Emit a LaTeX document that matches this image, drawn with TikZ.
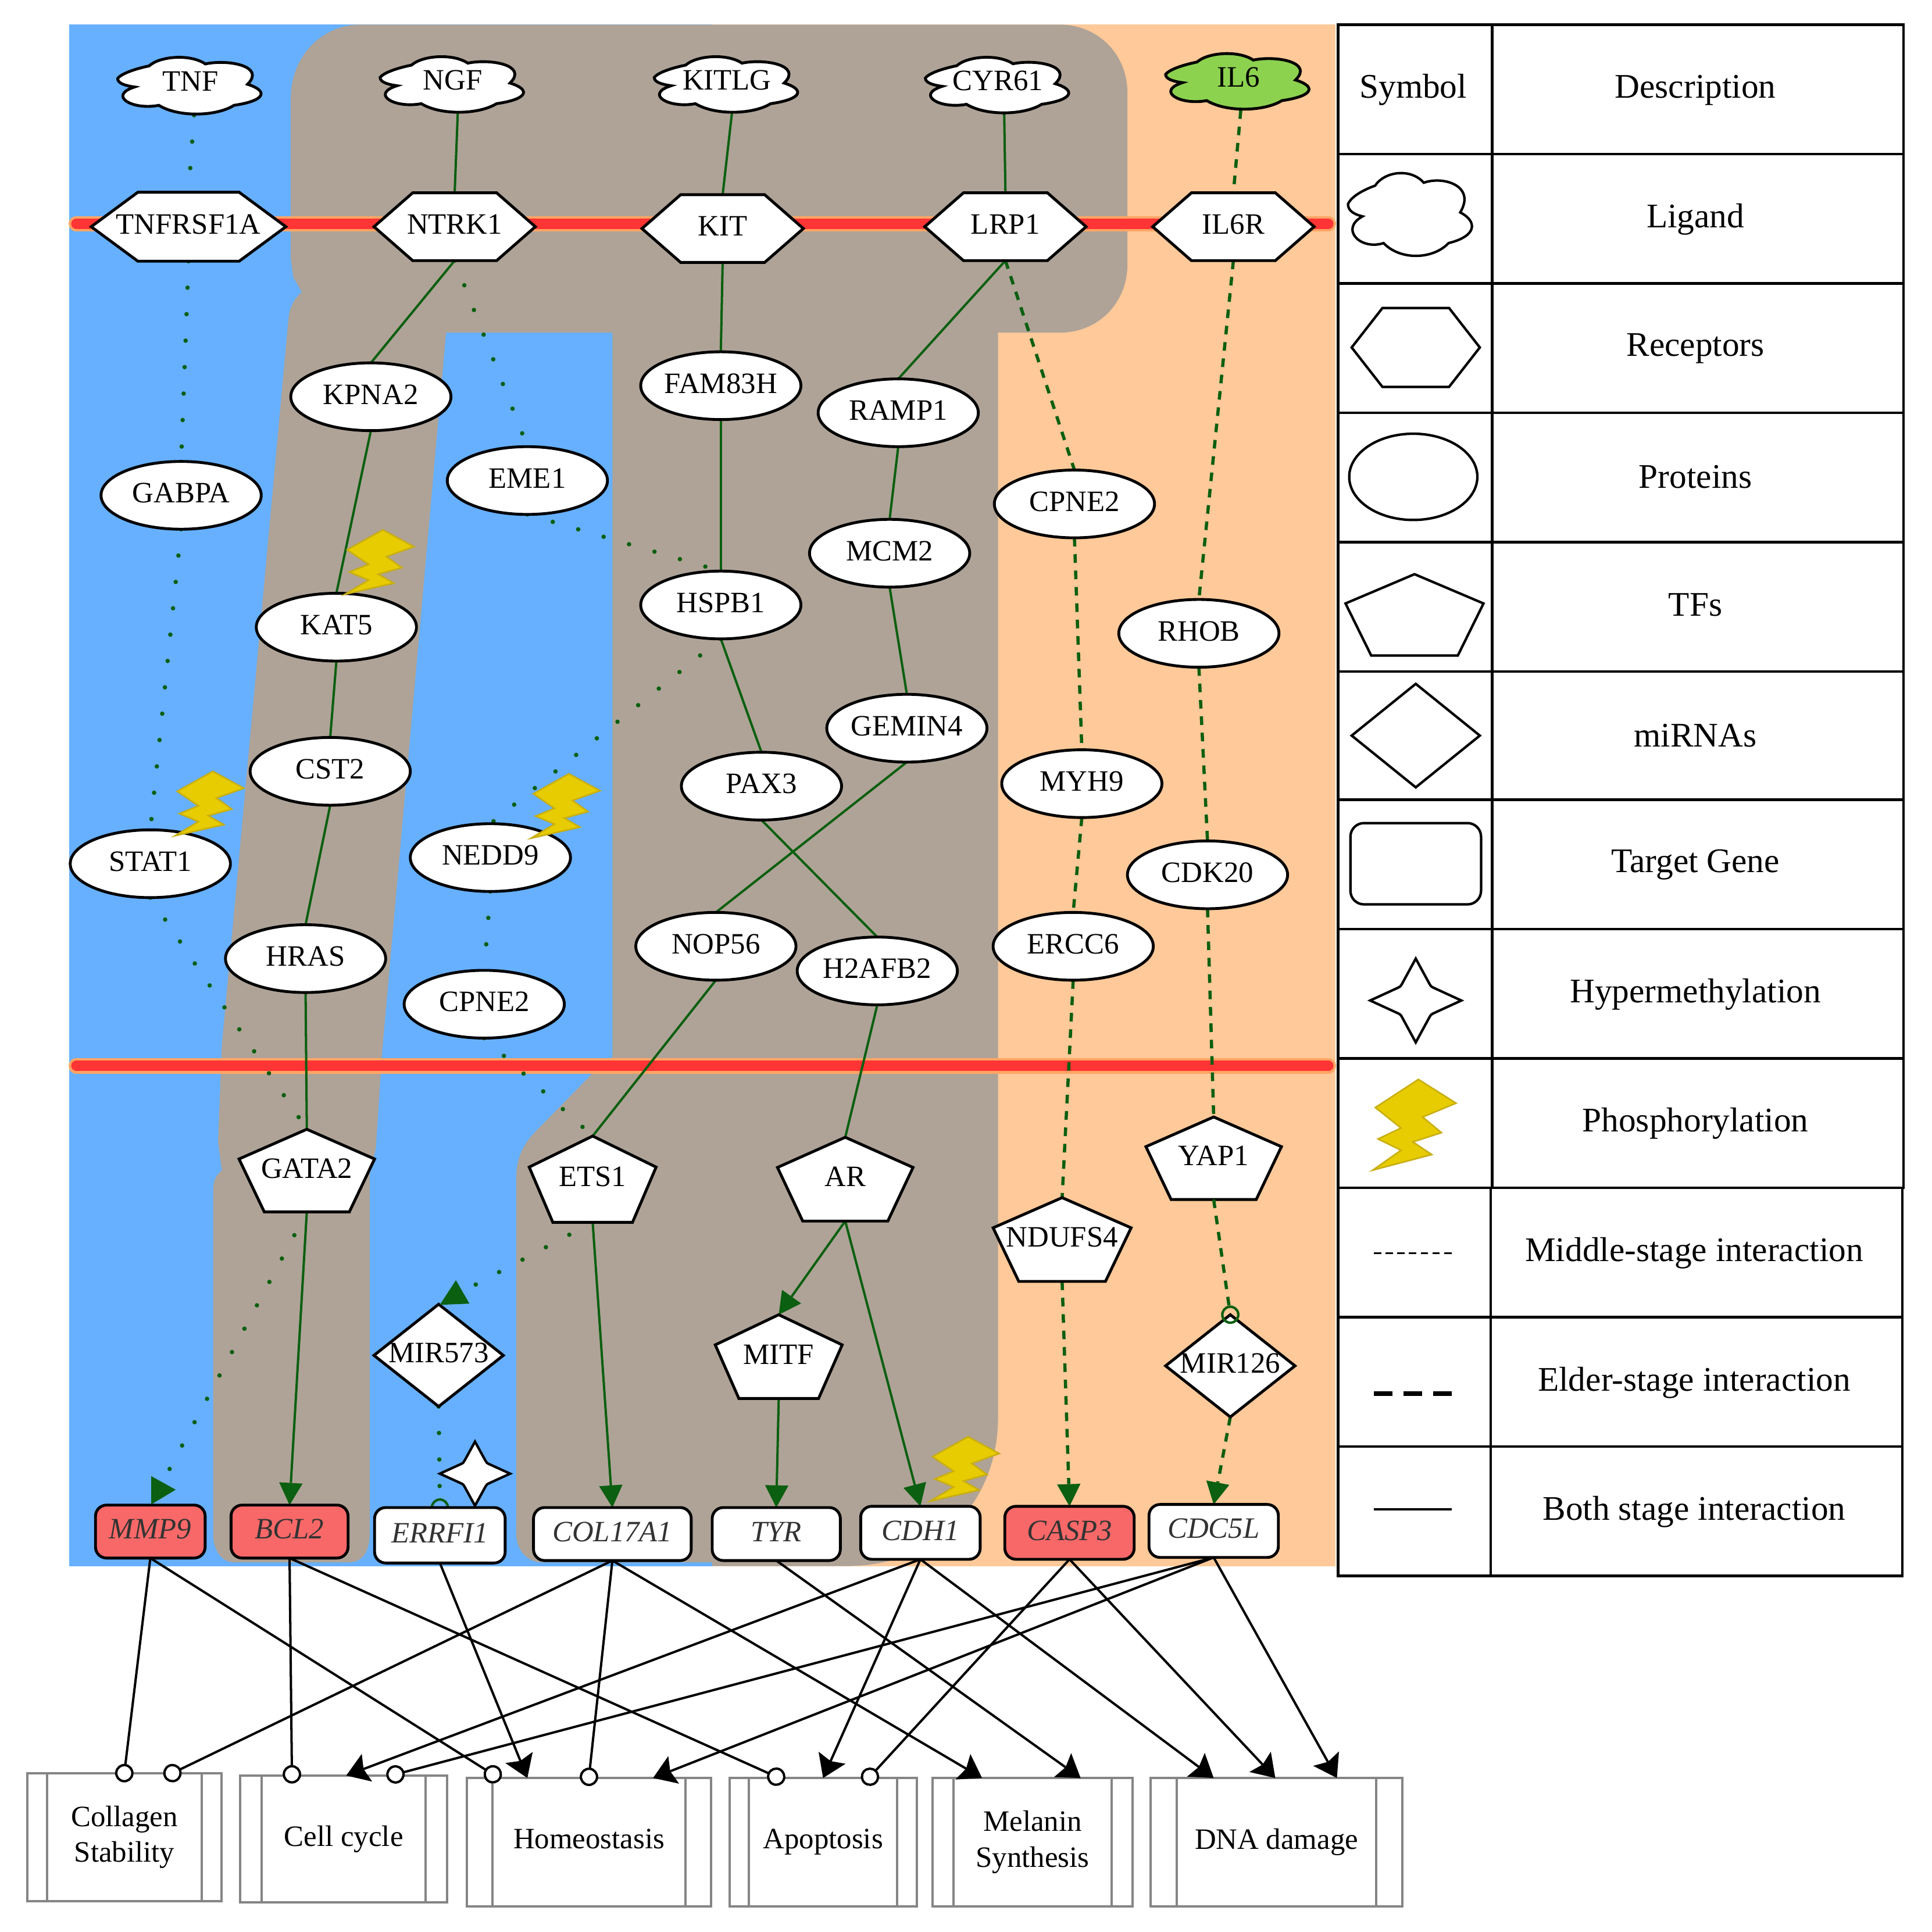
\documentclass[tikz,border=0pt]{standalone}
\usepackage{fontspec}
\setmainfont{Liberation Serif}
\usetikzlibrary{arrows.meta,shapes.geometric}
\pgfdeclarelayer{back}
\pgfdeclarelayer{edge}
\pgfsetlayers{back,edge,main}
\makeatletter
\newdimen\rsX \newdimen\rsY \newdimen\rsW \newdimen\rsH
\def\rsFrame{\southwest \rsX=\pgf@x \rsY=\pgf@y \northeast \rsW=\pgf@x \advance\rsW by -\rsX \rsH=\pgf@y \advance\rsH by -\rsY}
\def\rsP#1#2{\pgfpoint{\rsX+#1*\rsW}{\rsY+#2*\rsH}}
\def\rsInherit{%
  \inheritsavedanchors[from=rectangle]%
  \inheritanchorborder[from=rectangle]%
  \inheritanchor[from=rectangle]{center}%
  \inheritanchor[from=rectangle]{north}%
  \inheritanchor[from=rectangle]{south}%
  \inheritanchor[from=rectangle]{east}%
  \inheritanchor[from=rectangle]{west}%
  \inheritanchor[from=rectangle]{mid}%
  \inheritanchor[from=rectangle]{base}%
}
\pgfdeclareshape{rshex}{\rsInherit
  \backgroundpath{\rsFrame
    \pgfpathmoveto{\rsP{0}{.5}}\pgfpathlineto{\rsP{.24}{1}}\pgfpathlineto{\rsP{.76}{1}}
    \pgfpathlineto{\rsP{1}{.5}}\pgfpathlineto{\rsP{.76}{0}}\pgfpathlineto{\rsP{.24}{0}}\pgfpathclose}}
\pgfdeclareshape{rspent}{\rsInherit
  \backgroundpath{\rsFrame
    \pgfpathmoveto{\rsP{.5}{1}}\pgfpathlineto{\rsP{1}{.64}}\pgfpathlineto{\rsP{.814}{0}}
    \pgfpathlineto{\rsP{.186}{0}}\pgfpathlineto{\rsP{0}{.64}}\pgfpathclose}}
\pgfdeclareshape{rsdia}{\rsInherit
  \backgroundpath{\rsFrame
    \pgfpathmoveto{\rsP{.5}{1}}\pgfpathlineto{\rsP{1}{.5}}\pgfpathlineto{\rsP{.5}{0}}
    \pgfpathlineto{\rsP{0}{.5}}\pgfpathclose}}
\pgfdeclareshape{rsproc}{\rsInherit
  \backgroundpath{\rsFrame
    \pgfpathmoveto{\rsP{0}{0}}\pgfpathlineto{\rsP{1}{0}}\pgfpathlineto{\rsP{1}{1}}\pgfpathlineto{\rsP{0}{1}}\pgfpathclose
    \pgfpathmoveto{\rsP{.104}{0}}\pgfpathlineto{\rsP{.104}{1}}
    \pgfpathmoveto{\rsP{.896}{0}}\pgfpathlineto{\rsP{.896}{1}}}}
\pgfdeclareshape{rscloud}{\rsInherit
  \backgroundpath{\rsFrame
    \pgfpathmoveto{\rsP{0}{.62}}
    \pgfpathcurveto{\rsP{.03}{.72}}{\rsP{.15}{.80}}{\rsP{.216}{.833}}
    \pgfpathcurveto{\rsP{.29}{1.0}}{\rsP{.5}{1.04}}{\rsP{.603}{.867}}
    \pgfpathcurveto{\rsP{.76}{.95}}{\rsP{1.02}{.83}}{\rsP{.893}{.523}}
    \pgfpathcurveto{\rsP{1.03}{.42}}{\rsP{1.03}{.25}}{\rsP{.80}{.167}}
    \pgfpathcurveto{\rsP{.68}{-.02}}{\rsP{.42}{-.04}}{\rsP{.283}{.167}}
    \pgfpathcurveto{\rsP{.10}{.08}}{\rsP{-.07}{.33}}{\rsP{.116}{.477}}
    \pgfpathcurveto{\rsP{.05}{.50}}{\rsP{.0}{.54}}{\rsP{0}{.62}}
    \pgfpathclose}}
\makeatother
\definecolor{bgblue}{HTML}{66B0FF}
\definecolor{bgbrown}{HTML}{AFA397}
\definecolor{bgorange}{HTML}{FFC999}
\definecolor{memred}{HTML}{FF3434}
\definecolor{memedge}{HTML}{FFA564}
\definecolor{edgegreen}{HTML}{0B5F10}
\definecolor{genered}{HTML}{F96868}
\definecolor{boltfill}{HTML}{E6CC00}
\definecolor{boltline}{HTML}{C8AE10}
\definecolor{liggreen}{HTML}{8CD24F}
\definecolor{procgray}{HTML}{858585}
\tikzset{
  nodefont/.style={font=\fontsize{24}{29}\selectfont},
  base/.style={nodefont,draw=black,fill=white,line width=2.3pt,inner sep=0pt,outer sep=0pt,align=center,text height=16pt,text depth=4pt},
  lig/.style={base,shape=rscloud,text depth=7pt,minimum width=118pt,minimum height=47pt},
  rec/.style={base,shape=rshex,minimum width=131pt,minimum height=55pt},
  pro/.style={base,ellipse,minimum width=130pt,minimum height=55pt},
  tf/.style={base,shape=rspent,minimum width=110pt,minimum height=67pt},
  mir/.style={base,shape=rsdia,minimum width=105pt,minimum height=83pt},
  gene/.style={base,rounded corners=9pt,font=\fontsize{24}{27}\selectfont\itshape,text=black!80,minimum height=43pt},
  proc/.style={nodefont,shape=rsproc,draw=procgray,line width=1.9pt,fill=white,inner sep=0pt,outer sep=0pt,align=center},
  leg/.style={font=\fontsize{28}{30}\selectfont,inner sep=0pt},
  legsym/.style={draw=black,fill=white,line width=2pt,inner sep=0pt,outer sep=0pt},
  solidedge/.style={edgegreen,line width=1.9pt},
  dashedge/.style={edgegreen,line width=2.6pt,dash pattern=on 7pt off 6.3pt},
  dotedge/.style={edgegreen,line width=3.6pt,line cap=round,dash pattern=on 0pt off 21.5pt},
  greenarrow/.style={-{Triangle[length=18pt,width=19pt,line width=0pt,fill=edgegreen]}},
  greencircle/.style={-{Circle[open,length=15pt,width=15pt,line width=2pt]},shorten >=-7.5pt},
  blackedge/.style={black,line width=1.9pt},
  blackarrow/.style={blackedge,-{Stealth[length=18pt,width=24pt,inset=3pt,line width=0pt]}},
  blackcircle/.style={blackedge,-{Circle[fill=white,length=15pt,width=15pt,line width=1.9pt]}},
  bolt/.pic={\draw[fill=boltfill,draw=boltline,line width=1.2pt,line join=miter]
    (1.8,16.2)--(30.7,0)--(56,13.7)--(33.6,21.7)--(46.2,30.7)--(27,36)--(39.7,43.3)--(0,52.3)--(19,40.8)--(3.6,34.3)--(19,28)--cycle;},
  fourstar/.pic={\draw[fill=white,draw=black,line width=2pt]
    (1,0) -- (.40,.30) .. controls (.34,.33) and (.33,.34) .. (.30,.40) -- (0,1)
    -- (-.30,.40) .. controls (-.33,.34) and (-.34,.33) .. (-.40,.30) -- (-1,0)
    -- (-.40,-.30) .. controls (-.34,-.33) and (-.33,-.34) .. (-.30,-.40) -- (0,-1)
    -- (.30,-.40) .. controls (.33,-.34) and (.34,-.33) .. (.40,-.30) -- cycle;},
}
\begin{document}
\begin{tikzpicture}[x=1pt,y=-1pt]
\useasboundingbox (0,0) rectangle (1568,1568);
% background
\begin{pgfonlayer}{back}
\fill[bgblue] (56,20) rectangle (578,1271);
\fill[bgorange] (578,20) rectangle (1084,1271);
\fill[bgbrown] (292,20) -- (860,20) .. controls (892,20) and (915,45) .. (915,75) -- (915,215)
  .. controls (915,245) and (892,270) .. (860,270) -- (810,270) -- (810,1150)
  .. controls (810,1220) and (760,1271) .. (687,1271) -- (578,1271) -- (578,1268) -- (440,1268)
  .. controls (428,1268) and (419,1258) .. (419,1245) -- (419,955)
  .. controls (419,940) and (425,928) .. (435,918) -- (484,868) -- (497,858) -- (497,270) -- (362,270)
  -- (310,855) -- (305,932) .. controls (303,942) and (300,948) .. (300,954) -- (300,1245)
  .. controls (300,1258) and (295,1268) .. (283,1268) -- (190,1268)
  .. controls (180,1268) and (173,1258) .. (173,1245) -- (173,965)
  .. controls (173,958) and (176,953) .. (180,950) -- (177,927) -- (180,849) -- (234,260)
  .. controls (235,250) and (238,243) .. (245,237) -- (238,225) -- (236,210) -- (236,80)
  .. controls (236,45) and (262,20) .. (292,20) -- cycle;
\foreach \yy in {181.6,865}{
  \draw[memedge,line width=12.6pt,line cap=round] (62,\yy) -- (1078,\yy);
  \draw[memred,line width=8.5pt,line cap=round] (62,\yy) -- (1078,\yy);
}
\end{pgfonlayer}
% ligands
\node[lig,minimum height=48pt] (TNF) at (154.5,69.5) {TNF};
\node[lig] (NGF) at (367.5,68.5) {NGF};
\node[lig] (KITLG) at (590,68.5) {KITLG};
\node[lig] (CYR61) at (810,69) {CYR61};
\node[lig,fill=liggreen] (IL6) at (1005,66) {IL6};
% receptors
\node[rec,minimum width=158pt,minimum height=56pt] (TNFRSF1A) at (153,184) {TNFRSF1A};
\node[rec] (NTRK1) at (369,184) {NTRK1};
\node[rec] (KIT) at (586.5,185.5) {KIT};
\node[rec] (LRP1) at (816,184) {LRP1};
\node[rec] (IL6R) at (1001,184) {IL6R};
% proteins
\node[pro] (GABPA) at (147,402) {GABPA};
\node[pro] (KPNA2) at (301,322) {KPNA2};
\node[pro] (EME1) at (428,390) {EME1};
\node[pro] (FAM83H) at (585,313) {FAM83H};
\node[pro] (RAMP1) at (729,335) {RAMP1};
\node[pro] (CPNE2a) at (872,409) {CPNE2};
\node[pro] (MCM2) at (722,449) {MCM2};
\node[pro] (HSPB1) at (585,491) {HSPB1};
\node[pro] (RHOB) at (973,514) {RHOB};
\node[pro] (KAT5) at (273,509) {KAT5};
\node[pro] (GEMIN4) at (736,591) {GEMIN4};
\node[pro] (CST2) at (268,626) {CST2};
\node[pro] (PAX3) at (618,638) {PAX3};
\node[pro] (MYH9) at (878,636) {MYH9};
\node[pro] (STAT1) at (122,701) {STAT1};
\node[pro] (NEDD9) at (398,696) {NEDD9};
\node[pro] (CDK20) at (980,710) {CDK20};
\node[pro] (NOP56) at (581,768) {NOP56};
\node[pro] (H2AFB2) at (712,788) {H2AFB2};
\node[pro] (ERCC6) at (871,768) {ERCC6};
\node[pro] (HRAS) at (248,778) {HRAS};
\node[pro] (CPNE2b) at (393,815) {CPNE2};
% transcription factors
\node[tf] (GATA2) at (249,950) {GATA2};
\node[tf,minimum width=103pt,minimum height=70pt] (ETS1) at (481,957) {ETS1};
\node[tf,minimum height=68pt] (AR) at (686,957) {AR};
\node[tf,minimum width=103pt,minimum height=68pt] (MITF) at (632,1101) {MITF};
\node[tf] (YAP1) at (985,940) {YAP1};
\node[tf,minimum width=112pt,minimum height=68pt] (NDUFS4) at (862,1006) {NDUFS4};
% miRNAs
\node[mir] (MIR573) at (356,1100) {MIR573};
\node[mir] (MIR126) at (998.5,1108.5) {MIR126};
% target genes
\node[gene,fill=genered,minimum width=89pt] (MMP9) at (122,1243) {MMP9};
\node[gene,fill=genered,minimum width=95pt] (BCL2) at (235,1243) {BCL2};
\node[gene,minimum width=106pt,minimum height=45pt] (ERRFI1) at (357,1246) {ERRFI1};
\node[gene,minimum width=128pt] (COL17A1) at (497,1245) {COL17A1};
\node[gene,minimum width=104pt] (TYR) at (630,1245) {TYR};
\node[gene,minimum width=97pt] (CDH1) at (747,1244) {CDH1};
\node[gene,fill=genered,minimum width=105pt] (CASP3) at (868,1244) {CASP3};
\node[gene,minimum width=105pt] (CDC5L) at (985,1242.5) {CDC5L};
% modifications
\pic at (280,430) {bolt};
\pic at (142,626) {bolt};
\pic at (431,628) {bolt};
\pic at (755,1166) {bolt};
\pic[xscale=28.5,yscale=26] at (385.5,1196) {fourstar};
% green connectors
\begin{pgfonlayer}{edge}
\draw[dotedge] ([xshift=3pt]TNF.south) -- (TNFRSF1A.north);
\draw[dotedge] (TNFRSF1A.south) -- (GABPA.north);
\draw[dotedge] (GABPA.south) -- (STAT1.north);
\draw[dotedge] (STAT1.south) -- (GATA2.north);
\draw[dotedge] (GATA2.south) -- (MMP9.north);
\draw[solidedge] ([xshift=4pt]NGF.south) -- (NTRK1.north);
\draw[solidedge] (NTRK1.south) -- (KPNA2.north);
\draw[solidedge] (KPNA2.south) -- (KAT5.north);
\draw[solidedge] (KAT5.south) -- (CST2.north);
\draw[solidedge] (CST2.south) -- (HRAS.north);
\draw[solidedge] (HRAS.south) -- (GATA2.north);
\draw[solidedge,greenarrow] (GATA2.south) -- (BCL2.north);
\draw[dotedge] (NTRK1.south) -- (EME1.north);
\draw[dotedge] (EME1.south) -- (HSPB1.north);
\draw[dotedge] (HSPB1.south) -- (NEDD9.north);
\draw[dotedge] (NEDD9.south) -- (CPNE2b.north);
\draw[dotedge] (CPNE2b.south) -- (ETS1.north);
\draw[dotedge] (ETS1.south) -- (MIR573.north);
\draw[dotedge,greencircle] (MIR573.south) -- (ERRFI1.north);
\draw[solidedge] ([xshift=4pt]KITLG.south) -- (KIT.north);
\draw[solidedge] (KIT.south) -- (FAM83H.north);
\draw[solidedge] (FAM83H.south) -- (HSPB1.north);
\draw[solidedge] (HSPB1.south) -- (PAX3.north);
\draw[solidedge] (PAX3.south) -- (H2AFB2.north);
\draw[solidedge] (H2AFB2.south) -- (AR.north);
\draw[solidedge,greenarrow] (AR.south) -- (MITF.north);
\draw[solidedge,greenarrow] (AR.south) -- (CDH1.north);
\draw[solidedge,greenarrow] (MITF.south) -- (TYR.north);
\draw[solidedge] ([xshift=5pt]CYR61.south) -- (LRP1.north);
\draw[solidedge] (LRP1.south) -- (RAMP1.north);
\draw[solidedge] (RAMP1.south) -- (MCM2.north);
\draw[solidedge] (MCM2.south) -- (GEMIN4.north);
\draw[solidedge] (GEMIN4.south) -- (NOP56.north);
\draw[solidedge] (NOP56.south) -- (ETS1.north);
\draw[solidedge,greenarrow] (ETS1.south) -- (COL17A1.north);
\draw[dashedge] (LRP1.south) -- (CPNE2a.north);
\draw[dashedge] (CPNE2a.south) -- (MYH9.north);
\draw[dashedge] (MYH9.south) -- (ERCC6.north);
\draw[dashedge] (ERCC6.south) -- (NDUFS4.north);
\draw[dashedge,greenarrow] (NDUFS4.south) -- (CASP3.north);
\draw[dashedge] ([xshift=2pt]IL6.south) -- (IL6R.north);
\draw[dashedge] (IL6R.south) -- (RHOB.north);
\draw[dashedge] (RHOB.south) -- (CDK20.north);
\draw[dashedge] (CDK20.south) -- (YAP1.north);
\draw[dashedge,greenarrow] (MIR126.south) -- (CDC5L.north);
\end{pgfonlayer}
\fill[edgegreen] (122.7,1198) -- (142.6,1209) -- (122.7,1221) -- cycle;
\fill[edgegreen] (357,1059) -- (381,1058) -- (370,1039) -- cycle;
\draw[dashedge,greencircle] (YAP1.south) -- (MIR126.north);
% process boxes
\node[proc,minimum width=158pt,minimum height=104pt] (collagen) at (101,1491) {Collagen\\Stability};
\node[proc,minimum width=168pt,minimum height=103pt] (cellcycle) at (279,1492.5) {Cell cycle};
\node[proc,minimum width=198pt,minimum height=104pt,text height=16pt,text depth=5pt] (homeo) at (478,1495) {Homeostasis};
\node[proc,minimum width=152pt,minimum height=104pt] (apop) at (668,1495) {Apoptosis};
\node[proc,minimum width=162pt,minimum height=104pt] (melanin) at (838,1495) {Melanin\\Synthesis};
\node[proc,minimum width=204pt,minimum height=104pt] (dna) at (1036,1495) {DNA damage};
\coordinate (colA) at (100,1446.5);
\coordinate (colB) at (133.2,1442.3);
\coordinate (ccA) at (237,1447.5);
\coordinate (ccB) at (313.7,1442);
\coordinate (ccC) at (281,1441);
\coordinate (hoA) at (406.3,1444);
\coordinate (hoB) at (477.2,1449.5);
\coordinate (hoC) at (428,1443);
\coordinate (hoD) at (530,1443);
\coordinate (apA) at (636.8,1445);
\coordinate (apB) at (701,1447.5);
\coordinate (apC) at (668,1443);
\coordinate (meA) at (797,1443);
\coordinate (meB) at (877,1443);
\coordinate (dnA) at (985,1443);
\coordinate (dnB) at (1035,1443);
\coordinate (dnC) at (1085,1443);
% black connectors
\draw[blackcircle] (MMP9.south) -- (colA);
\draw[blackcircle] (MMP9.south) -- (hoA);
\draw[blackcircle] (BCL2.south) -- (ccA);
\draw[blackcircle] (BCL2.south) -- (apA);
\draw[blackarrow] (ERRFI1.south) -- (hoC);
\draw[blackcircle] (COL17A1.south) -- (colB);
\draw[blackcircle] (COL17A1.south) -- (hoB);
\draw[blackarrow] (COL17A1.south) -- (meA);
\draw[blackarrow] (TYR.south) -- (meB);
\draw[blackarrow] (CDH1.south) -- (ccC);
\draw[blackarrow] (CDH1.south) -- (apC);
\draw[blackarrow] (CDH1.south) -- (dnA);
\draw[blackcircle] (CASP3.south) -- (apB);
\draw[blackarrow] (CASP3.south) -- (dnB);
\draw[blackcircle] (CDC5L.south) -- (ccB);
\draw[blackarrow] (CDC5L.south) -- (hoD);
\draw[blackarrow] (CDC5L.south) -- (dnC);
% legend table
\draw[black,line width=2pt]
  (1086,20) rectangle (1545,964)
  (1086,964) rectangle (1544,1279)
  (1211,20) -- (1211,964)
  (1210,964) -- (1210,1279);
\foreach \yy in {125,230,335,440,545,649,754,859}{\draw[black,line width=2pt] (1086,\yy) -- (1545,\yy);}
\foreach \yy in {1069,1174}{\draw[black,line width=2pt] (1086,\yy) -- (1544,\yy);}
\node[leg] (hSym) at (1147,73) {Symbol};
\node[leg] (hDes) at (1376,73) {Description};
\node[leg] (dLig) at (1376,178) {Ligand};
\node[leg] (dRec) at (1376,283) {Receptors};
\node[leg] (dPro) at (1376,387) {Proteins};
\node[leg] (dTF) at (1376,491) {TFs};
\node[leg] (dMir) at (1376,597) {miRNAs};
\node[leg] (dGen) at (1376,702) {Target Gene};
\node[leg] (dHyp) at (1376,807) {Hypermethylation};
\node[leg] (dPho) at (1376,912) {Phosphorylation};
\node[leg] (dMid) at (1375,1017) {Middle-stage interaction};
\node[leg] (dEld) at (1375,1122) {Elder-stage interaction};
\node[leg] (dBot) at (1375,1227) {Both stage interaction};
\node[legsym,shape=rscloud,minimum width=102pt,minimum height=70pt] (sLig) at (1145,174) {};
\node[legsym,shape=rshex,minimum width=104pt,minimum height=64pt] (sRec) at (1149,282) {};
\node[legsym,ellipse,minimum width=104pt,minimum height=70pt] (sPro) at (1147,387) {};
\node[legsym,shape=rspent,minimum width=112pt,minimum height=66pt] (sTF) at (1148,499) {};
\node[legsym,shape=rsdia,minimum width=104pt,minimum height=84pt] (sMir) at (1149,597) {};
\node[legsym,rounded corners=11pt,minimum width=106pt,minimum height=66pt] (sGen) at (1149,701) {};
\pic[xscale=37,yscale=34] at (1149,812) {fourstar};
\pic[xscale=1.21,yscale=1.41] at (1114,876) {bolt};
\coordinate (lMidA) at (1115,1017);
\coordinate (lMidB) at (1180,1017);
\coordinate (lEldA) at (1115,1131);
\coordinate (lEldB) at (1180,1131);
\coordinate (lBotA) at (1115,1225);
\coordinate (lBotB) at (1178,1225);
\draw[black,line width=1.4pt,dash pattern=on 6pt off 3.5pt] (lMidA) -- (lMidB);
\draw[black,line width=3.6pt,dash pattern=on 15pt off 9pt] (lEldA) -- (lEldB);
\draw[black,line width=1.9pt] (lBotA) -- (lBotB);
\end{tikzpicture}
\end{document}
